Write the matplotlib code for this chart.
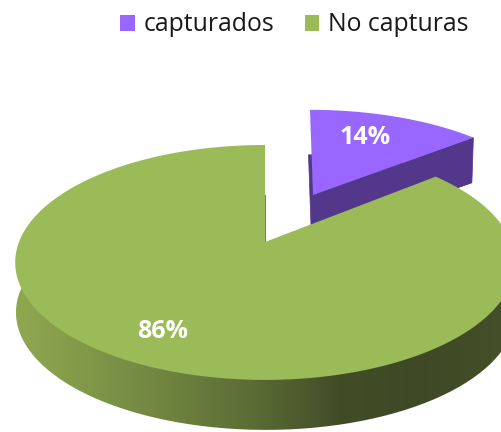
import numpy as np
import matplotlib
matplotlib.use("Agg")
import matplotlib.pyplot as plt
from matplotlib.path import Path
from matplotlib.patches import PathPatch
from matplotlib.transforms import Affine2D
from matplotlib.colors import LinearSegmentedColormap

categories = ["capturados", "No capturas"]
shares = [14, 86]
colors = ["#9966FF", "#9BBB59"]
side_purple = "#52378A"
side_stops = ["#8FA850", "#7F9648", "#6D813F", "#596A34", "#424D28", "#3E4825", "#445029"]

fig = plt.figure(figsize=(5.02, 4.32), dpi=100)
ax = fig.add_axes([0, 0, 1, 1])
wedges, _, autotexts = ax.pie(shares, colors=colors, startangle=90, counterclock=False,
                              autopct="%.0f%%", frame=True)
ax.set_aspect("auto")
ax.set_xlim(0, 502)
ax.set_ylim(432, 0)
ax.axis("off")


def project(xy, apex, sx, sy, p=0.174, skew=0.0):
    x, y = xy[:, 0], xy[:, 1]
    d = 1 + p * y
    return np.column_stack([apex[0] + sx * x / d + skew * y, apex[1] - sy * y / d])


def flat(w):
    fine = w.get_path().transformed(Affine2D().scale(2000))
    return np.vstack(fine.to_polygons(closed_only=True)) / 2000


small_unit = flat(wedges[0])
small_xy = project(small_unit, (313, 195), 234, 100, skew=-3)
big_xy = project(flat(wedges[1]), (265, 242), 246, 113.9)

# small slice: side then top
drop = np.array([-1.5, 45.0])
small_side = PathPatch(Path(small_xy + drop), fc=side_purple, ec=side_purple, lw=0.5, zorder=1)
ax.add_patch(small_side)
apex_i = np.argmin(np.hypot(small_unit[:, 0], small_unit[:, 1]))
corner_i = np.argmax(small_xy[:, 0])
quad = np.array([small_xy[apex_i], small_xy[corner_i],
                 small_xy[corner_i] + drop, small_xy[apex_i] + drop])
ax.add_patch(PathPatch(Path(quad), fc=side_purple, ec=side_purple, lw=0.5, zorder=1))
wedges[0]._path = Path(small_xy, closed=True)
wedges[0].set_zorder(2)
wedges[0].set_edgecolor("none")

# big slice: gradient side then top
big_side = PathPatch(Path(big_xy + [0.8, 50]), fc="none", ec="none", zorder=3)
ax.add_patch(big_side)
cmap = LinearSegmentedColormap.from_list("side", side_stops)
grad = np.linspace(0, 1, 256).reshape(1, -1)
im = ax.imshow(grad, extent=(15, 502, 432, 150), cmap=cmap, aspect="auto", zorder=3)
im.set_clip_path(big_side)
ax.set_aspect("auto")
ax.set_xlim(0, 502)
ax.set_ylim(432, 0)
wedges[1]._path = Path(big_xy, closed=True)
wedges[1].set_zorder(4)
wedges[1].set_edgecolor("none")

label_pos = [(365, 138), (163, 331)]
for t, pos in zip(autotexts, label_pos):
    t.set_position(pos)
    t.set(color="white", fontsize=18, fontweight="bold", family="Open Sans",
          ha="center", va="center", zorder=6)

leg = ax.legend(wedges, categories, ncol=2, loc="upper left", bbox_to_anchor=(0.2, 1.017),
                frameon=False, handlelength=0.6, handleheight=0.6, handletextpad=0.35,
                columnspacing=1.22, prop={"family": "Open Sans", "size": 17.8},
                labelcolor="#1a1a1a", borderpad=0.3)
leg.set_zorder(7)

fig.savefig("out.png", dpi=100)
